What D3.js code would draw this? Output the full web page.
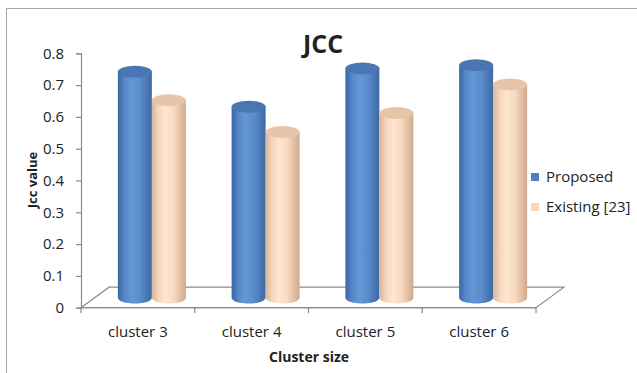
<!DOCTYPE html>
<html>
<head>
<meta charset="utf-8">
<script src="https://cdn.jsdelivr.net/npm/d3@7"></script>
<style>
  html, body { margin: 0; padding: 0; background: #fff; }
  svg { display: block; }
  text { font-family: "Open Sans", "Liberation Sans", sans-serif; fill: #222; }
</style>
</head>
<body>
<svg id="chart" width="637" height="373"></svg>
<script>
// Chart data
const categories = ["cluster 3", "cluster 4", "cluster 5", "cluster 6"];
const seriesNames = ["Proposed", "Existing [23]"];
const proposed = [0.71, 0.60, 0.72, 0.73];
const existing = [0.62, 0.52, 0.58, 0.67];
const yTicks = [0, 0.1, 0.2, 0.3, 0.4, 0.5, 0.6, 0.7, 0.8];

(function draw() {
  const svg = d3.select("#chart");

  // Frame (only top and left edges are visible)
  svg.append("path")
    .attr("d", "M6.5,373 L6.5,8.5 L637,8.5")
    .attr("fill", "none").attr("stroke", "#a6a6a6").attr("stroke-width", 1);

  // Plot geometry: front face of the floor and the depth offset of the 3D box
  const plotLeft = 81, plotRight = 536, plotBase = 307.7, plotTop = 53.3;
  const depth = { dx: 28, dy: -20.5 };

  const y = d3.scaleLinear().domain([0, 0.8]).range([plotBase, plotTop]);
  const x = d3.scaleBand().domain(categories).range([plotLeft, plotRight]);

  const axisColor = "#8c8c8c";

  // Floor of the 3D box
  const floor = d3.path();
  floor.moveTo(plotLeft, plotBase);
  floor.lineTo(plotLeft + depth.dx, plotBase + depth.dy);
  floor.lineTo(plotRight + depth.dx, plotBase + depth.dy);
  floor.lineTo(plotRight, plotBase);
  floor.closePath();
  svg.append("path").attr("d", floor.toString())
    .attr("fill", "none").attr("stroke", axisColor).attr("stroke-width", 1.2);

  // Value axis
  const yAxis = d3.axisLeft(y).tickValues(yTicks).tickSize(5).tickPadding(12)
    .tickFormat(d => d === 0 ? "0" : d3.format(".1f")(d));
  const gy = svg.append("g").attr("transform", `translate(${plotLeft},0)`).call(yAxis);
  gy.select(".domain").attr("stroke", axisColor).attr("stroke-width", 1.2);
  gy.selectAll(".tick line").attr("stroke", axisColor).attr("stroke-width", 1.2);
  gy.selectAll(".tick text").attr("fill", "#222").style("font-size", "15px")
    .style("font-family", "'Open Sans', sans-serif");

  // Category axis (ticks on band boundaries)
  svg.append("line").attr("x1", plotLeft).attr("x2", plotRight)
    .attr("y1", plotBase).attr("y2", plotBase)
    .attr("stroke", axisColor).attr("stroke-width", 1.2);
  const bounds = categories.map(c => x(c)).concat([plotRight]);
  svg.selectAll(".xtick").data(bounds).join("line").attr("class", "xtick")
    .attr("x1", d => d).attr("x2", d => d).attr("y1", plotBase).attr("y2", plotBase + 5.5)
    .attr("stroke", axisColor).attr("stroke-width", 1.2);
  svg.selectAll(".xlabel").data(categories).join("text").attr("class", "xlabel")
    .attr("x", d => x(d) + x.bandwidth() / 2).attr("y", plotBase + 29)
    .attr("text-anchor", "middle").style("font-size", "15px")
    .text(d => d);

  // Gradients for the cylinder sides
  const defs = svg.append("defs");
  const palettes = [
    { side: ["#3b66a2", "#5788c9", "#6397d8", "#5b8ccc", "#3d69a5"], cap: "#4a77b3" },
    { side: ["#d8b498", "#f6d7bd", "#ffe6d0", "#f7d9bf", "#cfa98c"], cap: "#e7c5a9" }
  ];
  palettes.forEach((p, i) => {
    const g = defs.append("linearGradient").attr("id", "side" + i)
      .attr("x1", "0").attr("x2", "1").attr("y1", "0").attr("y2", "0");
    [0, 0.2, 0.4, 0.65, 1].forEach((o, k) =>
      g.append("stop").attr("offset", o).attr("stop-color", p.side[k]));
  });

  // Cylinders, placed at mid depth of the box
  const barW = 34, ry = 6;
  const midDx = depth.dx / 2, midDy = depth.dy / 2;
  const series = [proposed, existing];
  const bars = svg.append("g");
  categories.forEach((c, ci) => {
    const cx = x(c) + x.bandwidth() / 2 + midDx;
    series.forEach((vals, si) => {
      const x0 = cx + (si === 0 ? -barW : 0);
      const x1 = x0 + barW;
      const yb = y(0) + midDy;
      const yt = y(vals[ci]) + midDy;
      const rx = barW / 2;
      const body = d3.path();
      body.moveTo(x0, yt);
      body.lineTo(x0, yb);
      body.bezierCurveTo(x0, yb + ry * 1.33, x1, yb + ry * 1.33, x1, yb);
      body.lineTo(x1, yt);
      body.closePath();
      bars.append("path").attr("d", body.toString()).attr("fill", `url(#side${si})`);
      bars.append("ellipse").attr("cx", x0 + rx).attr("cy", yt)
        .attr("rx", rx).attr("ry", ry).attr("fill", palettes[si].cap);
    });
  });

  // Title
  svg.append("text").attr("x", 323).attr("y", 53).attr("text-anchor", "middle")
    .style("font-size", "25px").style("font-weight", "bold").text("JCC");

  // Axis titles
  svg.append("text").attr("transform", "translate(37,180) rotate(-90)")
    .attr("text-anchor", "middle").style("font-size", "13px").style("font-weight", "bold")
    .text("Jcc value");
  svg.append("text").attr("x", 309).attr("y", 362).attr("text-anchor", "middle")
    .style("font-size", "14px").style("font-weight", "bold").text("Cluster size");

  // Legend
  const legend = svg.append("g");
  seriesNames.forEach((name, i) => {
    const ly = 173 + i * 30;
    legend.append("rect").attr("x", 531).attr("y", ly).attr("width", 8).attr("height", 8)
      .attr("fill", i === 0 ? "#4f81bd" : "#fcd5b5");
    legend.append("text").attr("x", 546).attr("y", ly + 8.5).style("font-size", "15px").text(name);
  });
})();
</script>
</body>
</html>
